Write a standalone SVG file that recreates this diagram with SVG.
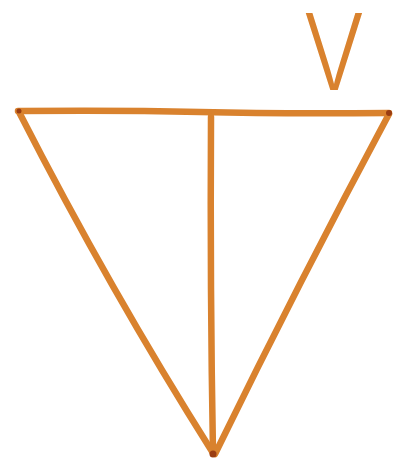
<svg xmlns="http://www.w3.org/2000/svg" width="395" height="462" viewBox="0 0 395 462">
<style>
.ln{fill:none;stroke:#d9822e;stroke-width:6.5;stroke-linecap:round;stroke-linejoin:round}
.lbl{font-family:Inter,"Open Sans",sans-serif;font-weight:300;fill:#d9822e}
.dot{fill:#9a3d12}
</style>
<rect width="395" height="462" fill="#ffffff"/>
<g id="connectors">
<path class="ln" d="M18,111 Q120,110 200,112 T389,113"/>
<path class="ln" d="M19,112 Q110,290 213,453"/>
<path class="ln" d="M389,114 Q300,280 215,454"/>
<path class="ln" d="M211,117 Q210,290 213,453"/>
</g>
<g id="vertices">
<circle class="dot" cx="19" cy="111" r="2.5"/>
<circle class="dot" cx="389" cy="113" r="3"/>
<circle class="dot" cx="213" cy="454" r="3.5"/>
</g>
<g id="label-V">
<text class="lbl" x="334" y="90" font-size="106" text-anchor="middle" transform="translate(334,0) scale(0.86,1) translate(-334,0)">V</text>
</g>
</svg>
